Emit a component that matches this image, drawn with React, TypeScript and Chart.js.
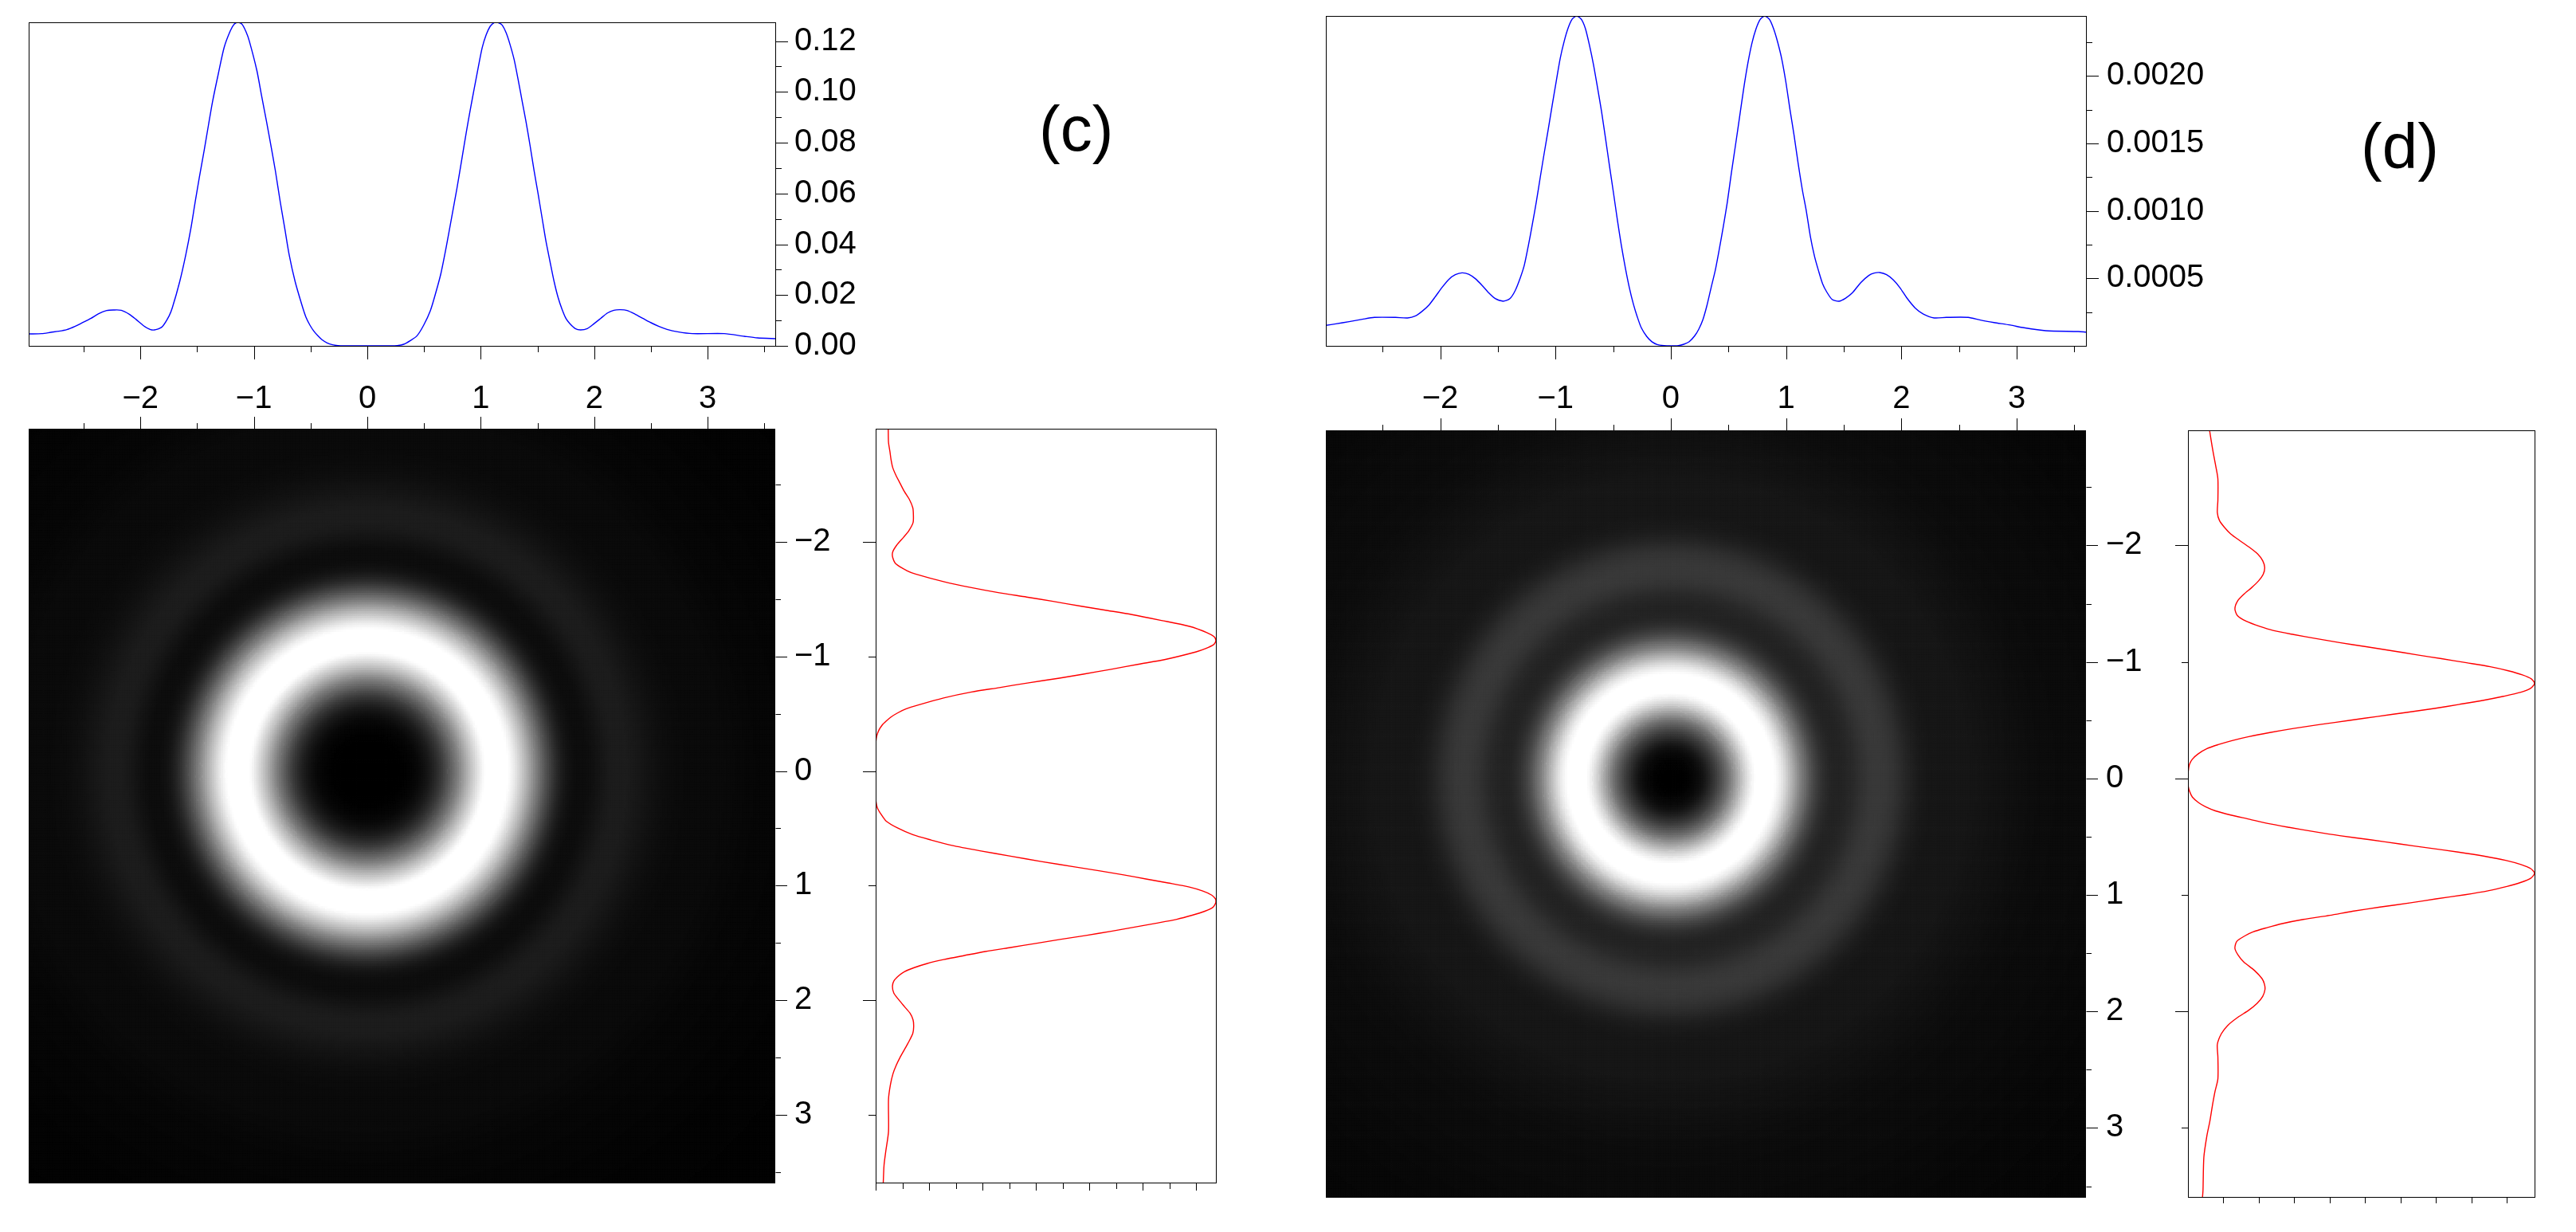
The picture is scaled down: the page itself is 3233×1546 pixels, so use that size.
import React, { useEffect, useRef } from "react";
import { Chart, registerables } from "chart.js";

Chart.register(...registerables);

// ---- values ----
const profileXC = [
  -2.981, -2.869, -2.789, -2.719, -2.649, -2.578, -2.508, -2.438, -2.368, -2.297, -2.239, -2.169, -2.098, -2.04, -1.97,
  -1.911, -1.864, -1.806, -1.747, -1.719, -1.653, -1.6, -1.555, -1.518, -1.482, -1.438, -1.4, -1.365, -1.314, -1.262,
  -1.208, -1.173, -1.138, -1.103, -1.068, -1.04, -0.974, -0.932, -0.888, -0.845, -0.81, -0.768, -0.728, -0.689, -0.637,
  -0.576, -0.541, -0.506, -0.471, -0.436, -0.4, -0.354, -0.307, -0.26, -0.2, 0, 0.2, 0.263, 0.321, 0.38, 0.438, 0.497,
  0.556, 0.602, 0.649, 0.696, 0.743, 0.79, 0.837, 0.872, 0.907, 0.942, 0.977, 1.013, 1.048, 1.083, 1.118, 1.137, 1.153,
  1.188, 1.224, 1.259, 1.294, 1.329, 1.364, 1.399, 1.435, 1.47, 1.505, 1.54, 1.575, 1.61, 1.646, 1.681, 1.716, 1.751,
  1.786, 1.833, 1.88, 1.939, 1.997, 2.056, 2.114, 2.173, 2.232, 2.29, 2.361, 2.431, 2.501, 2.571, 2.642, 2.736, 2.865,
  3.146, 3.322, 3.439, 3.603,
];
const profileVC = [
  0.00471, 0.00481, 0.00533, 0.00575, 0.00638, 0.00764, 0.0092, 0.01077, 0.01266, 0.01391, 0.01412, 0.01402, 0.01245,
  0.01046, 0.00785, 0.00638, 0.00638, 0.00764, 0.01182, 0.01496, 0.02542, 0.03588, 0.0463, 0.0565, 0.066, 0.077,
  0.087, 0.096, 0.107, 0.1175, 0.124, 0.12667, 0.1274, 0.12657, 0.12353, 0.12, 0.1085, 0.0985, 0.08818,
  0.07772, 0.0688, 0.0568, 0.04634, 0.03588, 0.02542, 0.016, 0.0113, 0.00816, 0.00575, 0.00397, 0.00241, 0.00115,
  0.00042, 0.0001, 0, 0, 0, 0.0001, 0.00063, 0.00209, 0.00397, 0.00816, 0.01391, 0.02071, 0.02856, 0.03902, 0.05052,
  0.06203, 0.07458, 0.08399, 0.09288, 0.1012, 0.1095, 0.11747, 0.1225, 0.12583, 0.1273, 0.1274, 0.1273, 0.12636,
  0.12322, 0.11851, 0.11276, 0.10491, 0.09655, 0.08818, 0.07876, 0.069, 0.05994, 0.05052, 0.04111, 0.03326, 0.02542,
  0.01914, 0.01443, 0.01077, 0.00868, 0.0068, 0.00628, 0.0068, 0.00868, 0.01077, 0.01287, 0.01402, 0.01423, 0.01391,
  0.01245, 0.01077, 0.0091, 0.00764, 0.00649, 0.00554, 0.00481, 0.00481, 0.00377, 0.00314, 0.00282,
];
const profileXD = [
  -2.991, -2.905, -2.79, -2.675, -2.571, -2.387, -2.283, -2.214, -2.157, -2.099, -2.041, -1.984, -1.926, -1.869, -1.811,
  -1.753, -1.696, -1.638, -1.581, -1.523, -1.454, -1.396, -1.35, -1.304, -1.27, -1.235, -1.2, -1.166, -1.131, -1.097,
  -1.062, -1.028, -0.993, -0.959, -0.924, -0.889, -0.855, -0.816, -0.774, -0.74, -0.705, -0.671, -0.636, -0.601, -0.567,
  -0.532, -0.498, -0.463, -0.429, -0.394, -0.359, -0.325, -0.29, -0.256, -0.21, -0.164, -0.118, -0.06, 0, 0.066, 0.113,
  0.16, 0.208, 0.243, 0.278, 0.314, 0.349, 0.385, 0.42, 0.455, 0.491, 0.526, 0.562, 0.597, 0.632, 0.668, 0.703, 0.739,
  0.774, 0.814, 0.857, 0.892, 0.927, 0.963, 0.998, 1.034, 1.069, 1.104, 1.14, 1.175, 1.21, 1.246, 1.281, 1.317, 1.352,
  1.399, 1.458, 1.517, 1.576, 1.647, 1.718, 1.765, 1.812, 1.871, 1.93, 1.989, 2.048, 2.119, 2.19, 2.284, 2.39, 2.579,
  2.685, 2.803, 2.945, 3.063, 3.252, 3.535, 3.601,
];
const profileVD = [
  0.000152, 0.000163, 0.000179, 0.000197, 0.000211, 0.000211, 0.000207, 0.000222, 0.000256, 0.000301, 0.000366, 0.000433,
  0.000492, 0.000527, 0.000541, 0.000531, 0.000498, 0.000449, 0.000394, 0.00035, 0.000331, 0.00035, 0.000409, 0.000508,
  0.0006, 0.000745, 0.000905, 0.001069, 0.001256, 0.001433, 0.00161, 0.001787, 0.001964, 0.002131, 0.002259, 0.002358,
  0.002421, 0.002444, 0.002417, 0.002348, 0.002225, 0.002085, 0.001915, 0.001738, 0.001541, 0.001334, 0.001138, 0.000931,
  0.000744, 0.000577, 0.000429, 0.000311, 0.000213, 0.000134, 0.000071, 0.00003, 0.00001, 0.000002, 0, 0.000002, 0.000012,
  0.000031, 0.000075, 0.000124, 0.000193, 0.000301, 0.000429, 0.000557, 0.000714, 0.000882, 0.001069, 0.001285, 0.001492,
  0.001698, 0.001905, 0.002092, 0.00224, 0.002348, 0.002417, 0.002444, 0.002417, 0.002348, 0.002249, 0.002122, 0.001954,
  0.001748, 0.001561, 0.001354, 0.00116, 0.001, 0.000813, 0.000665, 0.000557, 0.000459, 0.0004, 0.000344, 0.000331,
  0.000354, 0.000394, 0.000468, 0.000522, 0.000539, 0.000543, 0.000527, 0.000488, 0.000429, 0.000354, 0.000281, 0.000236,
  0.000207, 0.000211, 0.000211, 0.000191, 0.000173, 0.000154, 0.000134, 0.000112, 0.000106, 0.000102,
];
// Corners of the images lie beyond the curves' range: values.
const cornerRadii = [4.2, 5.2];
const cornerVC = [0.0016, 0.0006];
const cornerVD = [0.00007, 0.00004];
// Grey response: linear, saturating to white just under the peak.
const greyIn = [0, 0.5, 0.95, 1];
const greyOut = [0, 0.5, 1, 1];

const xLabelTicks = [-2, -1, 0, 1, 2, 3];
const xMinorTicks = [-2.5, -1.5, -0.5, 0.5, 1.5, 2.5, 3.5];
const sideLongTicks = [-2, 0, 2];
const sideShortTicks = [-1, 1, 3];
const yMajorC = [0, 0.02, 0.04, 0.06, 0.08, 0.1, 0.12];
const yMinorC = [0.01, 0.03, 0.05, 0.07, 0.09, 0.11];
const yMajorD = [0.0005, 0.001, 0.0015, 0.002];
const yMinorD = [0.00025, 0.00075, 0.00125, 0.00175, 0.00225];

const FONT = { family: "'Liberation Sans', Arial, sans-serif", size: 40 };
const M = { l: 24, t: 24, r: 190, b: 100 };

type Rect = { L: number; T: number; R: number; B: number };
type Mark = { axis: "x" | "y"; values: number[]; len: number; dir: "bottom" | "top" | "left" | "right" };

function marksPlugin(marks: Mark[], box: boolean) {
  return {
    id: "axisMarks",
    afterDraw(chart: any) {
      const { ctx, chartArea: a, scales } = chart;
      ctx.save();
      ctx.strokeStyle = "#000";
      ctx.lineWidth = 1;
      ctx.beginPath();
      for (const m of marks) {
        for (const v of m.values) {
          const p = Math.round(scales[m.axis].getPixelForValue(v)) + 0.5;
          if (m.dir === "bottom") { ctx.moveTo(p, a.bottom + 0.5); ctx.lineTo(p, a.bottom + m.len); }
          if (m.dir === "top") { ctx.moveTo(p, a.top); ctx.lineTo(p, a.top - m.len); }
          if (m.dir === "right") { ctx.moveTo(a.right + 0.5, p); ctx.lineTo(a.right + m.len, p); }
          if (m.dir === "left") { ctx.moveTo(a.left + 0.5, p); ctx.lineTo(a.left - m.len, p); }
        }
      }
      ctx.stroke();
      if (box) ctx.strokeRect(a.left + 0.5, a.top + 0.5, a.right - a.left, a.bottom - a.top);
      ctx.restore();
    },
  };
}

function zip(a: number[], b: number[]) {
  return a.map((v, i) => ({ x: v, y: b[i] }));
}

function setTicks(values: number[]) {
  return (s: any) => {
    s.ticks = values.map((value) => ({ value }));
  };
}

function clearPad(sizeKey: "width" | "height", size: number) {
  return (s: any) => {
    s.paddingLeft = s.paddingRight = s.paddingTop = s.paddingBottom = 0;
    s[sizeKey] = s.options.display ? size : 0;
  };
}

const axisLabel = (v: number) => (v < 0 ? "\u2212" + Math.abs(v) : String(v));

function gridAxes(xr: number[], yr: number[], xLabels: boolean, yTicks: number[] | null, fmt?: (v: number) => string, reverse = false, pad = 24) {
  return {
    x: {
      type: "linear",
      position: "bottom",
      display: xLabels,
      min: xr[0],
      max: xr[1],
      border: { display: false },
      grid: { display: false, drawTicks: false },
      afterBuildTicks: setTicks(xLabelTicks),
      afterFit: clearPad("height", M.b),
      ticks: { font: FONT, color: "#000", padding: 43, maxRotation: 0, autoSkip: false, callback: axisLabel },
    },
    y: {
      type: "linear",
      position: "right",
      display: !!yTicks,
      reverse,
      min: yr[0],
      max: yr[1],
      border: { display: false },
      grid: { display: false, drawTicks: false },
      afterBuildTicks: setTicks(yTicks || []),
      afterFit: clearPad("width", M.r),
      ticks: { font: FONT, color: "#000", padding: pad, autoSkip: false, callback: fmt || axisLabel },
    },
  };
}

function baseOptions(scales: any, hasRight: boolean, hasBottom: boolean) {
  return {
    responsive: false,
    animation: false,
    events: [],
    layout: {
      padding: { left: M.l, top: M.t, right: hasRight ? 0 : M.r, bottom: hasBottom ? 0 : M.b },
    },
    plugins: { legend: { display: false }, tooltip: { enabled: false }, title: { display: false } },
    scales,
  };
}

function curveDataset(data: { x: number; y: number }[], color: string) {
  return {
    data,
    showLine: true,
    borderColor: color,
    borderWidth: 1.4,
    tension: 0.25,
    pointRadius: 0,
    pointHoverRadius: 0,
    fill: false,
  };
}

function piecewise(xs: number[], ys: number[], q: number) {
  let i = 1;
  while (i < xs.length - 1 && xs[i] < q) i++;
  const t = Math.max(0, Math.min(1, (q - xs[i - 1]) / (xs[i] - xs[i - 1])));
  return ys[i - 1] + t * (ys[i] - ys[i - 1]);
}

// Image cells: the picture is radially symmetric, so each cell takes its grey
// from the read radial profile at the cell's distance from the centre.
function imageDatasets(xs: number[], vs: number[], cornerV: number[], xr: number[], yr: number[], step: number) {
  const pairs = xs.map((x, i) => [x, vs[i]]).filter((p) => p[0] >= 0);
  const radii = pairs.map((p) => p[0]).concat(cornerRadii);
  const vals = pairs.map((p) => p[1]).concat(cornerV);
  const vmax = Math.max(...vs);
  const levels = new Map<number, { x: number; y: number }[]>();
  for (let y = yr[0]; y <= yr[1] + step; y += step) {
    for (let x = xr[0]; x <= xr[1] + step; x += step) {
      const t = piecewise(radii, vals, Math.hypot(x, y)) / vmax;
      const g = Math.round(255 * piecewise(greyIn, greyOut, t));
      let list = levels.get(g);
      if (!list) levels.set(g, (list = []));
      list.push({ x, y });
    }
  }
  return [...levels.entries()].map(([g, data]) => ({
    data,
    parsing: false,
    normalized: true,
    showLine: false,
    pointStyle: "rect",
    pointRadius: 2.6,
    pointHoverRadius: 0,
    pointBorderWidth: 0,
    pointBackgroundColor: `rgb(${g},${g},${g})`,
  }));
}

type Panel = { rect: Rect; config: any };

const C = {
  top: { L: 36, T: 28, R: 973, B: 434 },
  img: { L: 36, T: 538, R: 973, B: 1485 },
  side: { L: 1099, T: 538, R: 1526, B: 1484 },
  xr: [-2.985, 3.596],
  yr: [-2.987, 3.599],
  sideYr: [-2.987, 3.592],
  vMax: 0.1274,
};
const D = {
  top: { L: 1664, T: 20, R: 2618, B: 434 },
  img: { L: 1664, T: 540, R: 2618, B: 1503 },
  side: { L: 2746, T: 540, R: 3181, B: 1502 },
  xr: [-2.992, 3.601],
  yr: [-2.988, 3.599],
  sideYr: [-2.988, 3.592],
  vMax: 0.002444,
};

function buildPanels(): Panel[] {
  const xMarksDown: Mark[] = [
    { axis: "x", values: xLabelTicks, len: 17, dir: "bottom" },
    { axis: "x", values: xMinorTicks, len: 8, dir: "bottom" },
  ];
  const xMarksUp: Mark[] = [
    { axis: "x", values: xLabelTicks, len: 15, dir: "top" },
    { axis: "x", values: xMinorTicks, len: 7, dir: "top" },
  ];
  const imgY: Mark[] = [
    { axis: "y", values: xLabelTicks, len: 15, dir: "right" },
    { axis: "y", values: xMinorTicks, len: 7, dir: "right" },
  ];
  const sideY = (long: number, short: number): Mark[] => [
    { axis: "y", values: sideLongTicks, len: long, dir: "left" },
    { axis: "y", values: sideShortTicks, len: short, dir: "left" },
  ];
  const step = 0.02;
  return [
    {
      rect: C.top,
      config: {
        type: "scatter",
        data: { datasets: [curveDataset(zip(profileXC, profileVC), "#0000ff")] },
        options: baseOptions(gridAxes(C.xr, [0, C.vMax], true, yMajorC, (v) => v.toFixed(2)), true, true),
        plugins: [marksPlugin([...xMarksDown, { axis: "y", values: yMajorC, len: 16, dir: "right" }, { axis: "y", values: yMinorC, len: 8, dir: "right" }], true)],
      },
    },
    {
      rect: C.img,
      config: {
        type: "scatter",
        data: { datasets: imageDatasets(profileXC, profileVC, cornerVC, C.xr, C.yr, step) },
        options: baseOptions(gridAxes(C.xr, C.yr, false, xLabelTicks, undefined, true), true, false),
        plugins: [marksPlugin([...xMarksUp, ...imgY], false)],
      },
    },
    {
      rect: C.side,
      config: {
        type: "scatter",
        data: { datasets: [curveDataset(zip(profileVC, profileXC), "#ff0000")] },
        options: baseOptions(gridAxes([0, C.vMax], C.sideYr, false, null, undefined, true), false, false),
        plugins: [marksPlugin([
          ...sideY(16, 9),
          { axis: "x", values: yMajorC, len: 10, dir: "bottom" },
          { axis: "x", values: yMinorC, len: 8, dir: "bottom" },
        ], true)],
      },
    },
    {
      rect: D.top,
      config: {
        type: "scatter",
        data: { datasets: [curveDataset(zip(profileXD, profileVD), "#0000ff")] },
        options: baseOptions(gridAxes(D.xr, [0, D.vMax], true, yMajorD, (v) => v.toFixed(4), false, 26), true, true),
        plugins: [marksPlugin([...xMarksDown, { axis: "y", values: yMajorD, len: 16, dir: "right" }, { axis: "y", values: yMinorD, len: 8, dir: "right" }], true)],
      },
    },
    {
      rect: D.img,
      config: {
        type: "scatter",
        data: { datasets: imageDatasets(profileXD, profileVD, cornerVD, D.xr, D.yr, step) },
        options: baseOptions(gridAxes(D.xr, D.yr, false, xLabelTicks, undefined, true, 25), true, false),
        plugins: [marksPlugin([...xMarksUp, ...imgY], false)],
      },
    },
    {
      rect: D.side,
      config: {
        type: "scatter",
        data: { datasets: [curveDataset(zip(profileVD, profileXD), "#ff0000")] },
        options: baseOptions(gridAxes([0, D.vMax], D.sideYr, false, null, undefined, true), false, false),
        plugins: [marksPlugin([
          ...sideY(16, 8),
          { axis: "x", values: [...yMinorD, ...yMajorD], len: 8, dir: "bottom" },
        ], true)],
      },
    },
  ];
}

function PanelCanvas({ panel }: { panel: Panel }) {
  const ref = useRef<HTMLCanvasElement>(null);
  const { rect } = panel;
  useEffect(() => {
    const chart = new Chart(ref.current as HTMLCanvasElement, panel.config);
    return () => chart.destroy();
  }, [panel]);
  const width = rect.R - rect.L + M.l + M.r;
  const height = rect.B - rect.T + M.t + M.b;
  return (
    <canvas
      ref={ref}
      width={width}
      height={height}
      style={{ position: "absolute", left: rect.L - M.l, top: rect.T - M.t, width, height, display: "block" }}
    />
  );
}

const labelStyle: React.CSSProperties = {
  position: "absolute",
  font: "80px/80px 'Liberation Sans', Arial, sans-serif",
  color: "#000",
  whiteSpace: "nowrap",
};

const panels = buildPanels();

export default function App() {
  return (
    <div style={{ position: "absolute", left: 0, top: 0, width: 3233, height: 1546, background: "#fff", overflow: "hidden" }}>
      {panels.map((p, i) => (
        <PanelCanvas key={i} panel={p} />
      ))}
      <div style={{ ...labelStyle, left: 1304, top: 122 }}>(c)</div>
      <div style={{ ...labelStyle, left: 2963, top: 144 }}>(d)</div>
    </div>
  );
}
